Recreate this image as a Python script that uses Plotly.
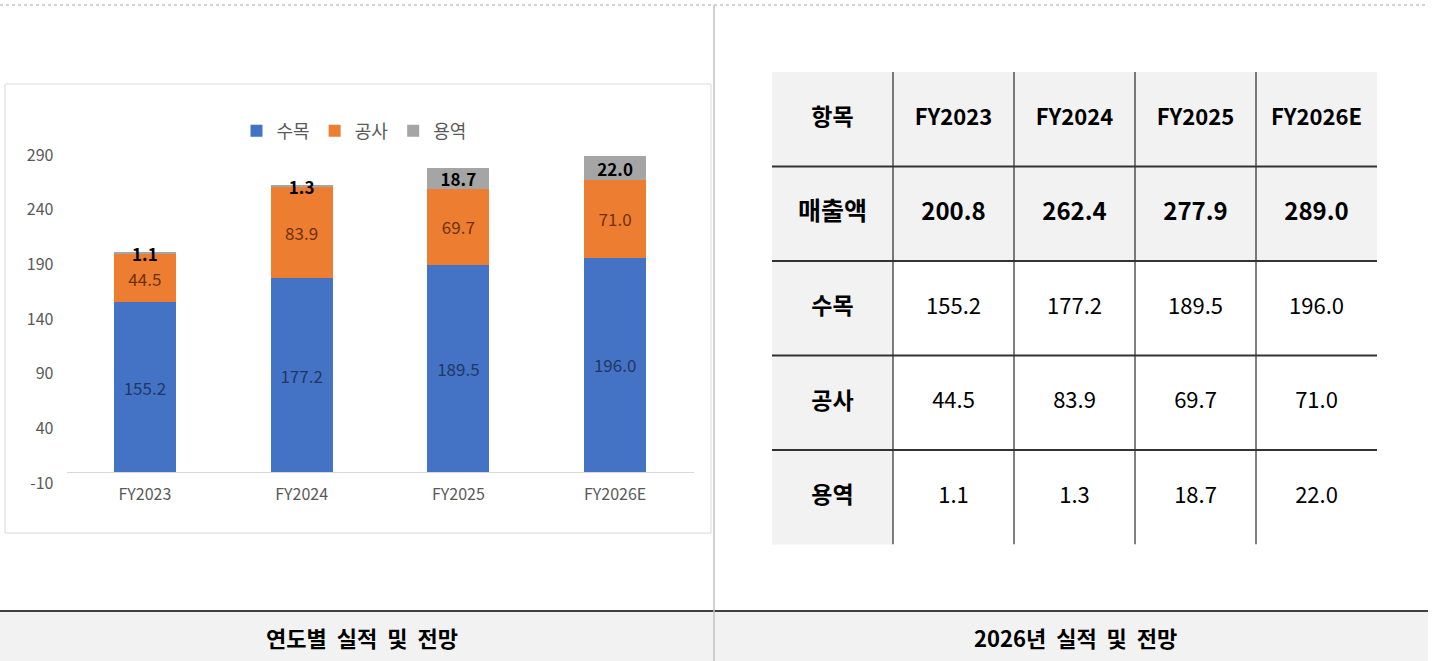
import plotly.graph_objects as go

W, H = 1434, 661

# ---------------- data ----------------
years = ["FY2023", "FY2024", "FY2025", "FY2026E"]
series_names = ["수목", "공사", "용역"]
sumok = [155.2, 177.2, 189.5, 196.0]
gongsa = [44.5, 83.9, 69.7, 71.0]
yongyeok = [1.1, 1.3, 18.7, 22.0]
totals = [200.8, 262.4, 277.9, 289.0]
ytick_vals = [-10, 40, 90, 140, 190, 240, 290]
table_header = ["항목"] + years
table_rows = ["매출액", "수목", "공사", "용역"]
chart_caption = "연도별  실적  및  전망"
table_caption = "2026년  실적  및  전망"

FONT = "Noto Sans CJK KR"


def px_x(x):
    return x / W


def px_y(y):
    return 1 - y / H


fig = go.Figure()

# ---------------- stacked bar chart ----------------
bar_colors = ["#4472C4", "#ED7D31", "#A5A5A5"]
label_colors = ["#1F3864", "#6E320A", "#000000"]
label_weights = ["normal", "normal", "bold"]
for name, vals, c, lc, w in zip(series_names, [sumok, gongsa, yongyeok],
                                bar_colors, label_colors, label_weights):
    fig.add_trace(go.Bar(
        x=years, y=vals, name=name,
        marker=dict(color=c, line=dict(width=0)),
        text=[f"{v:.1f}" for v in vals],
        textposition="inside", insidetextanchor="middle", textangle=0,
        constraintext="none",
        textfont=dict(family=FONT, size=17, color=lc, weight=w),
        hoverinfo="skip",
        xaxis="x", yaxis="y",
    ))

# ---------------- table (second set of axes) ----------------
ncol = len(table_header)
nrow = len(table_rows) + 1
mask = [[1 if (r <= 1 or c == 0) else 0 for c in range(ncol)] for r in range(nrow)]
fig.add_trace(go.Heatmap(
    z=mask, x=list(range(ncol)), y=list(range(nrow)),
    colorscale=[[0, "#FFFFFF"], [1, "#F2F2F2"]], zmin=0, zmax=1,
    showscale=False, hoverinfo="skip", xaxis="x2", yaxis="y2",
))


def text_trace(xs, ys, texts, size, weight):
    return go.Scatter(
        x=xs, y=ys, text=texts, mode="text", textposition="middle center",
        textfont=dict(family=FONT, size=size, color="#000000", weight=weight),
        hoverinfo="skip", showlegend=False, cliponaxis=False,
        xaxis="x2", yaxis="y2",
    )


# header row
fig.add_trace(text_trace([0], [0], table_header[:1], 23, "bold"))
fig.add_trace(text_trace(list(range(1, ncol)), [0] * (ncol - 1), table_header[1:], 22, "bold"))
# 매출액 row
fig.add_trace(text_trace([0], [1], [table_rows[0]], 25, "bold"))
fig.add_trace(text_trace(list(range(1, ncol)), [1] * len(totals),
                         [f"{v:.1f}" for v in totals], 24, "bold"))
# other row labels
fig.add_trace(text_trace([0] * 3, [2, 3, 4], table_rows[1:], 23, "bold"))
# values
for r, vals in zip([2, 3, 4], [sumok, gongsa, yongyeok]):
    fig.add_trace(text_trace(list(range(1, ncol)), [r] * len(vals),
                             [f"{v:.1f}" for v in vals], 22, "normal"))

shapes = []
# table grid lines (internal only)
for c in range(1, ncol):
    shapes.append(dict(type="line", xref="x2", yref="y2", x0=c - 0.5, x1=c - 0.5,
                       y0=-0.5, y1=nrow - 0.5, line=dict(color="#000000", width=1)))
for r in range(1, nrow):
    shapes.append(dict(type="line", xref="x2", yref="y2", x0=-0.5, x1=ncol - 0.5,
                       y0=r - 0.5, y1=r - 0.5, line=dict(color="#333333", width=2)))

# chart box border
shapes.append(dict(type="rect", xref="paper", yref="paper",
                   x0=px_x(5), x1=px_x(711), y0=px_y(533), y1=px_y(84),
                   line=dict(color="#D9D9D9", width=1), layer="below"))
# top dotted rule
shapes.append(dict(type="line", xref="paper", yref="paper",
                   x0=0, x1=px_x(1428), y0=px_y(5), y1=px_y(5),
                   line=dict(color="#A6A6A6", width=1, dash="dot")))
# caption band
shapes.append(dict(type="rect", xref="paper", yref="paper",
                   x0=0, x1=px_x(1428), y0=0, y1=px_y(611),
                   fillcolor="#F2F2F2", line=dict(width=0), layer="below"))
shapes.append(dict(type="line", xref="paper", yref="paper",
                   x0=0, x1=px_x(1428), y0=px_y(611), y1=px_y(611),
                   line=dict(color="#404040", width=2)))
# vertical divider
shapes.append(dict(type="line", xref="paper", yref="paper",
                   x0=px_x(714), x1=px_x(714), y0=0, y1=px_y(5),
                   line=dict(color="#C0C0C0", width=1.5)))

cap_font = dict(family=FONT, size=22, color="#000000", weight="bold")
annotations = [
    dict(text=chart_caption, x=px_x(362), y=px_y(637), xref="paper", yref="paper",
         xanchor="center", yanchor="middle", showarrow=False, font=cap_font),
    dict(text=table_caption, x=px_x(1075), y=px_y(637), xref="paper", yref="paper",
         xanchor="center", yanchor="middle", showarrow=False, font=cap_font),
]

fig.update_layout(
    width=W, height=H,
    margin=dict(l=0, r=0, t=0, b=0, pad=0, autoexpand=False),
    paper_bgcolor="#FFFFFF", plot_bgcolor="rgba(0,0,0,0)",
    barmode="stack", bargap=0.605,
    uniformtext=dict(minsize=17, mode="show"),
    font=dict(family=FONT, color="#595959"),
    showlegend=True,
    legend=dict(orientation="h", x=px_x(354), xanchor="center",
                y=px_y(131), yanchor="middle", traceorder="normal",
                font=dict(family=FONT, size=18, color="#595959"),
                bgcolor="rgba(0,0,0,0)"),
    xaxis=dict(domain=[px_x(66.5), px_x(693.5)], showgrid=False, zeroline=False,
               showline=False, ticks="", automargin=False,
               tickfont=dict(family=FONT, size=16, color="#595959"), fixedrange=True),
    yaxis=dict(domain=[px_y(483), px_y(155)], range=[-10, 290],
               tickmode="array", tickvals=ytick_vals, ticktext=[str(v) for v in ytick_vals],
               showgrid=False, zeroline=True, zerolinecolor="#D9D9D9", zerolinewidth=1,
               showline=False, ticks="", ticklabelstandoff=12, automargin=False,
               tickfont=dict(family=FONT, size=16, color="#595959"), fixedrange=True),
    xaxis2=dict(domain=[px_x(772), px_x(1377)], range=[-0.5, ncol - 0.5],
                visible=False, anchor="y2", fixedrange=True, automargin=False),
    yaxis2=dict(domain=[px_y(544.5), px_y(72)], range=[nrow - 0.5, -0.5],
                visible=False, anchor="x2", fixedrange=True, automargin=False),
    shapes=shapes,
    annotations=annotations,
)

fig.write_html("out.html", config={"displayModeBar": False},
               post_script="document.body.style.margin='0';document.body.style.overflow='hidden';")
